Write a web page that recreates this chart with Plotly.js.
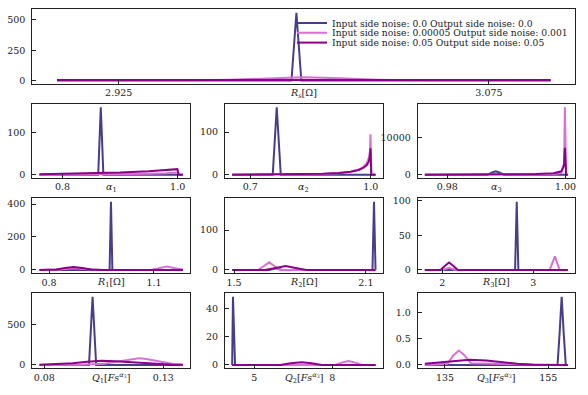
<!DOCTYPE html>
<html>
<head>
<meta charset="utf-8">
<script src="https://cdn.plot.ly/plotly-3.0.1.min.js"></script>
<style>html,body{margin:0;padding:0;background:#fff;}#chart{width:588px;height:395px;}</style>
</head>
<body>
<div id="chart"></div>
<script>
// ---------- series names ----------
const seriesNames = [
  'Input side noise: 0.0 Output side noise: 0.0',
  'Input side noise: 0.00005 Output side noise: 0.001',
  'Input side noise: 0.05 Output side noise: 0.05'
];

// ---------- R_s ----------
const rs_x0 = [2.9, 2.995, 2.997, 2.999, 3.1];
const rs_y0 = [0, 0, 560, 0, 0];
const rs_x1 = [2.9, 2.95, 2.97, 2.985, 3.0, 3.015, 3.03, 3.05, 3.1];
const rs_y1 = [0, 1, 8, 20, 27, 20, 8, 1, 0];
const rs_x2 = [2.9, 2.95, 3.0, 3.05, 3.1];
const rs_y2 = [4, 5, 6, 5, 4];

// ---------- alpha_1 ----------
const a1_x0 = [0.76, 0.862, 0.8665, 0.871, 1.009];
const a1_y0 = [0, 0, 160, 0, 0];
const a1_x1 = [0.76, 0.85, 0.9, 0.95, 0.98, 0.997, 0.9995, 1.002, 1.009];
const a1_y1 = [0, 0.5, 1, 2, 3, 5, 5, 0, 0];
const a1_x2 = [0.76, 0.8, 0.85, 0.9, 0.95, 0.98, 0.997, 0.9995, 1.002, 1.009];
const a1_y2 = [1, 2, 3, 5, 8, 11, 13, 13, 0, 0];

// ---------- alpha_2 ----------
const a2_x0 = [0.655, 0.756, 0.766, 0.776, 1.012];
const a2_y0 = [0, 0, 158, 0, 0];
const a2_x1 = [0.655, 0.8, 0.88, 0.92, 0.95, 0.97, 0.98, 0.99, 0.995, 0.998, 0.9995, 1.0015, 1.012];
const a2_y1 = [0, 0.3, 1.5, 3.5, 7, 12, 17, 27, 38, 55, 95, 0, 0];
const a2_x2 = [0.655, 0.8, 0.88, 0.92, 0.95, 0.97, 0.98, 0.99, 0.995, 0.998, 0.9995, 1.0015, 1.012];
const a2_y2 = [0, 0.5, 2, 4, 7, 11, 15, 22, 30, 42, 62, 0, 0];

// ---------- alpha_3 ----------
const a3_x0 = [0.9762, 0.9868, 0.9876, 0.9882, 0.9888, 0.9896, 1.0004];
const a3_y0 = [0, 0, 600, 900, 600, 0, 0];
const a3_x1 = [0.9762, 0.99, 0.995, 0.998, 0.9993, 0.99975, 0.9999, 1.0001, 1.0004];
const a3_y1 = [0, 10, 40, 150, 500, 3000, 18300, 0, 0];
const a3_x2 = [0.9762, 0.99, 0.995, 0.998, 0.9993, 0.99975, 0.9999, 1.0001, 1.0004];
const a3_y2 = [0, 50, 150, 400, 900, 2500, 7300, 0, 0];

// ---------- R_1 ----------
const r1_x0 = [0.7725, 0.973, 0.977, 0.981, 1.1825];
const r1_y0 = [0, 0, 414, 0, 0];
const r1_x1 = [0.7725, 0.83, 0.87, 0.91, 0.95, 1.09, 1.115, 1.137, 1.16, 1.1825];
const r1_y1 = [0, 3, 10, 3, 0, 0, 10, 20, 10, 2];
const r1_x2 = [0.7725, 0.82, 0.845, 0.87, 0.895, 0.92, 0.95, 1.1825];
const r1_y2 = [0, 3, 12, 18, 12, 3, 0, 0];

// ---------- R_2 ----------
const r2_x0 = [1.4916, 1.66, 1.69, 1.72, 2.13, 2.137, 2.144];
const r2_y0 = [0, 0, 4, 0, 0, 171, 0];
const r2_x1 = [1.4916, 1.61, 1.635, 1.66, 1.685, 1.71, 2.144];
const r2_y1 = [0, 0, 9, 19, 9, 0, 0];
const r2_x2 = [1.4916, 1.64, 1.69, 1.735, 1.78, 1.83, 2.144];
const r2_y2 = [0, 0, 5, 10, 5, 0, 0];

// ---------- R_3 ----------
const r3_x0 = [1.808, 2.8, 2.818, 2.836, 3.38];
const r3_y0 = [0, 0, 98.5, 0, 0];
const r3_x1 = [1.808, 2.0, 2.074, 2.15, 3.18, 3.21, 3.238, 3.265, 3.29, 3.38];
const r3_y1 = [0, 0, 3, 0, 0, 9, 19.5, 9, 0, 0];
const r3_x2 = [1.808, 1.98, 2.03, 2.074, 2.12, 2.17, 3.38];
const r3_y2 = [0, 0, 6, 10.7, 6, 0, 0];

// ---------- Q_1 ----------
const q1_x0 = [0.078, 0.0988, 0.1003, 0.1018, 0.1382];
const q1_y0 = [0, 0, 840, 0, 0];
const q1_x1 = [0.078, 0.095, 0.105, 0.112, 0.1165, 0.1198, 0.123, 0.128, 0.134, 0.1382];
const q1_y1 = [0, 3, 15, 45, 72, 82, 72, 40, 10, 2];
const q1_x2 = [0.078, 0.085, 0.092, 0.098, 0.104, 0.11, 0.116, 0.122, 0.128, 0.134, 0.1382];
const q1_y2 = [2, 8, 20, 38, 50, 45, 33, 20, 10, 3, 1];

// ---------- Q_2 ----------
const q2_x0 = [4.149, 4.18, 4.26, 9.664];
const q2_y0 = [0, 48.7, 0, 0];
const q2_x1 = [4.149, 8.1, 8.4, 8.63, 8.85, 9.15, 9.664];
const q2_y1 = [0, 0, 1.8, 2.8, 1.8, 0, 0];
const q2_x2 = [4.149, 6.0, 6.4, 6.82, 7.2, 7.6, 9.664];
const q2_y2 = [0, 0, 1.2, 1.9, 1.2, 0, 0];

// ---------- Q_3 ----------
const q3_x0 = [131.1, 156.8, 157.2, 157.6, 158.0, 158.4, 158.8];
const q3_y0 = [0, 0, 0.6, 1.3, 0.6, 0, 0];
const q3_x1 = [131.1, 135.5, 136.6, 137.7, 138.8, 140, 158.8];
const q3_y1 = [0, 0.02, 0.18, 0.275, 0.18, 0.03, 0];
const q3_x2 = [131.1, 134, 137, 139.8, 143, 146, 149, 152, 158.8];
const q3_y2 = [0.02, 0.05, 0.085, 0.10, 0.085, 0.05, 0.02, 0.005, 0];

// ---------- ticks & labels ----------
const rs_xticks = [2.925, 3.075], rs_xtext = ['2.925', '3.075'], rs_yticks = [0, 250, 500];
const a1_xticks = [0.8, 1.0], a1_xtext = ['0.8', '1.0'], a1_yticks = [0, 100];
const a2_xticks = [0.7, 1.0], a2_xtext = ['0.7', '1.0'], a2_yticks = [0, 100];
const a3_xticks = [0.98, 1.0], a3_xtext = ['0.98', '1.00'], a3_yticks = [0, 10000];
const r1_xticks = [0.8, 1.1], r1_xtext = ['0.8', '1.1'], r1_yticks = [0, 200, 400];
const r2_xticks = [1.5, 2.1], r2_xtext = ['1.5', '2.1'], r2_yticks = [0, 100];
const r3_xticks = [2, 3], r3_xtext = ['2', '3'], r3_yticks = [0, 50, 100];
const q1_xticks = [0.08, 0.13], q1_xtext = ['0.08', '0.13'], q1_yticks = [0, 500];
const q2_xticks = [5, 8], q2_xtext = ['5', '8'], q2_yticks = [0, 20, 40];
const q3_xticks = [135, 155], q3_xtext = ['135', '155'], q3_yticks = [0, 0.5, 1.0], q3_ytext = ['0.0', '0.5', '1.0'];

const axisLabels = [
  '<i>R</i><sub><i>s</i></sub>[Ω]',
  '<i>α</i><sub>1</sub>', '<i>α</i><sub>2</sub>', '<i>α</i><sub>3</sub>',
  '<i>R</i><sub>1</sub>[Ω]', '<i>R</i><sub>2</sub>[Ω]', '<i>R</i><sub>3</sub>[Ω]',
  '<i>Q</i><sub>1</sub>[<i>Fs</i><sup><i>α</i><sub>3</sub></sup>]',
  '<i>Q</i><sub>2</sub>[<i>Fs</i><sup><i>α</i><sub>3</sub></sup>]',
  '<i>Q</i><sub>3</sub>[<i>Fs</i><sup><i>α</i><sub>3</sub></sup>]'
];

// ---------- layout geometry (pixels) ----------
const W = 588, H = 395;
const colors = ['#483D8B', '#DA70D6', '#8B008B'];
const FONT = 'DejaVu Serif, Liberation Serif, serif';
const FS = 9.5;
const LFS = 9.2;

const panels = [
  {xs: [rs_x0, rs_x1, rs_x2], ys: [rs_y0, rs_y1, rs_y2], xt: rs_xticks, xtt: rs_xtext, yt: rs_yticks, px: [32.3, 575.3], py: [9.3, 84]},
  {xs: [a1_x0, a1_x1, a1_x2], ys: [a1_y0, a1_y1, a1_y2], xt: a1_xticks, xtt: a1_xtext, yt: a1_yticks, px: [32.3, 190], py: [104, 178]},
  {xs: [a2_x0, a2_x1, a2_x2], ys: [a2_y0, a2_y1, a2_y2], xt: a2_xticks, xtt: a2_xtext, yt: a2_yticks, px: [225, 382.7], py: [104, 178]},
  {xs: [a3_x0, a3_x1, a3_x2], ys: [a3_y0, a3_y1, a3_y2], xt: a3_xticks, xtt: a3_xtext, yt: a3_yticks, px: [417.7, 575], py: [104, 178]},
  {xs: [r1_x0, r1_x1, r1_x2], ys: [r1_y0, r1_y1, r1_y2], xt: r1_xticks, xtt: r1_xtext, yt: r1_yticks, px: [32.3, 190], py: [198.3, 273.3]},
  {xs: [r2_x0, r2_x1, r2_x2], ys: [r2_y0, r2_y1, r2_y2], xt: r2_xticks, xtt: r2_xtext, yt: r2_yticks, px: [225, 382.7], py: [198.3, 273.3]},
  {xs: [r3_x0, r3_x1, r3_x2], ys: [r3_y0, r3_y1, r3_y2], xt: r3_xticks, xtt: r3_xtext, yt: r3_yticks, px: [417.7, 575], py: [198.3, 273.3]},
  {xs: [q1_x0, q1_x1, q1_x2], ys: [q1_y0, q1_y1, q1_y2], xt: q1_xticks, xtt: q1_xtext, yt: q1_yticks, px: [32.3, 190], py: [293.3, 368.3]},
  {xs: [q2_x0, q2_x1, q2_x2], ys: [q2_y0, q2_y1, q2_y2], xt: q2_xticks, xtt: q2_xtext, yt: q2_yticks, px: [225, 382.7], py: [293.3, 368.3]},
  {xs: [q3_x0, q3_x1, q3_x2], ys: [q3_y0, q3_y1, q3_y2], xt: q3_xticks, xtt: q3_xtext, yt: q3_yticks, ytt: q3_ytext, px: [417.7, 575], py: [293.3, 368.3]}
];

function padRange(arrs) {
  let lo = Infinity, hi = -Infinity;
  arrs.forEach(a => a.forEach(v => { if (v < lo) lo = v; if (v > hi) hi = v; }));
  const s = hi - lo;
  return [lo - 0.05 * s, hi + 0.05 * s];
}

const traces = [];
const layout = {
  width: W, height: H,
  margin: {l: 0, r: 0, t: 0, b: 0},
  paper_bgcolor: '#fff', plot_bgcolor: '#fff',
  font: {family: FONT, size: FS, color: '#222'},
  showlegend: true,
  annotations: []
};

const legendNames = ['legend', 'legend2', 'legend3'];
const legendY = [23.0, 32.8, 42.6];
legendNames.forEach((ln, i) => {
  layout[ln] = {
    x: 292 / W, xanchor: 'left',
    y: 1 - legendY[i] / H, yanchor: 'middle',
    bgcolor: 'rgba(0,0,0,0)', borderwidth: 0,
    font: {family: FONT, size: LFS, color: '#222'}
  };
});

panels.forEach((p, k) => {
  const n = k + 1;
  const xa = n === 1 ? 'x' : 'x' + n;
  const ya = n === 1 ? 'y' : 'y' + n;
  const xkey = n === 1 ? 'xaxis' : 'xaxis' + n;
  const ykey = n === 1 ? 'yaxis' : 'yaxis' + n;
  for (let s = 0; s < 3; s++) {
    const t = {
      x: p.xs[s], y: p.ys[s], type: 'scatter', mode: 'lines',
      xaxis: xa, yaxis: ya, name: seriesNames[s],
      line: {color: colors[s], width: 2},
      showlegend: k === 0, hoverinfo: 'skip'
    };
    if (k === 0) t.legend = legendNames[s];
    traces.push(t);
  }
  const common = {
    showgrid: false, zeroline: false, showline: true, mirror: true,
    linecolor: '#222', linewidth: 1, ticks: 'inside', ticklen: 4, tickwidth: 1,
    tickcolor: '#222', tickfont: {family: FONT, size: FS, color: '#222'}
  };
  layout[xkey] = Object.assign({}, common, {
    domain: [p.px[0] / W, p.px[1] / W], anchor: ya,
    range: padRange(p.xs), tickmode: 'array', tickvals: p.xt, ticktext: p.xtt,
    ticklabelstandoff: 0
  });
  layout[ykey] = Object.assign({}, common, {
    domain: [1 - p.py[1] / H, 1 - p.py[0] / H], anchor: xa,
    range: padRange(p.ys), tickmode: 'array', tickvals: p.yt,
    ticktext: p.ytt ? p.ytt : p.yt.map(String), ticklabelstandoff: 4
  });
  layout.annotations.push({
    text: axisLabels[k], xref: 'paper', yref: 'paper',
    x: (p.px[0] + p.px[1]) / 2 / W, y: 1 - (p.py[1] + 9.5) / H,
    xanchor: 'center', yanchor: 'middle', showarrow: false,
    font: {family: FONT, size: FS, color: '#222'}
  });
});

Plotly.newPlot('chart', traces, layout, {staticPlot: true, displayModeBar: false});
</script>
</body>
</html>
